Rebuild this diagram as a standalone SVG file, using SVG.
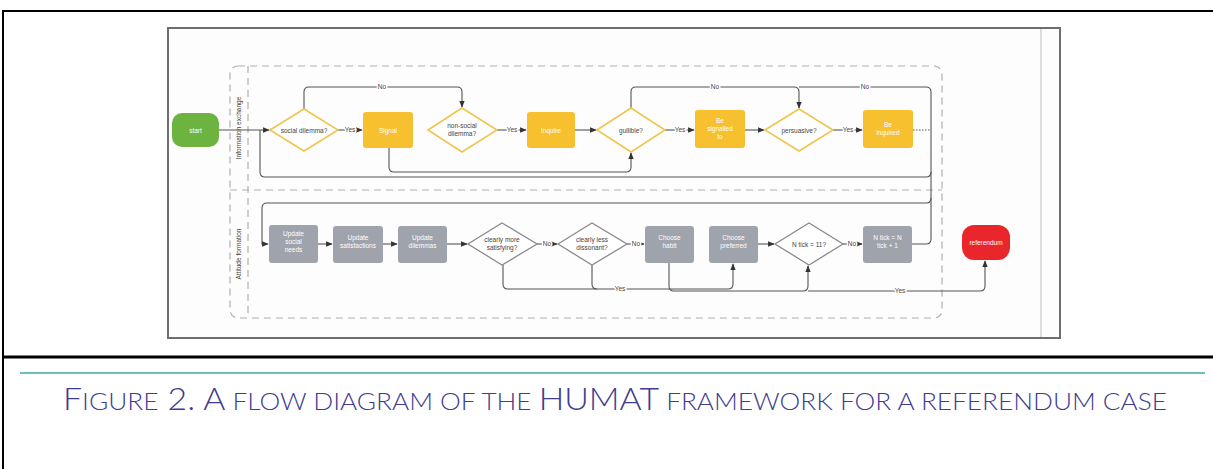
<svg xmlns="http://www.w3.org/2000/svg" width="1213" height="469" viewBox="0 0 1213 469">
<style>
.c{fill:none;stroke:#555;stroke-width:1.1}
.ym{fill:#f6c02f}
.yd{fill:#fff;stroke:#f0c44a;stroke-width:1.5}
.gd{fill:#fff;stroke:#8a8a8a;stroke-width:1.3}
.gb{fill:#9fa3ac}
.t{font-family:"Liberation Sans",Arial,sans-serif;font-size:6.5px;text-anchor:middle}
.w{fill:#fff}
.k{fill:#444}
.lbl{font-family:"Liberation Sans",Arial,sans-serif;font-size:6.5px;text-anchor:middle;fill:#444;stroke:#fff;stroke-width:3;paint-order:stroke}
.lane{fill:none;stroke:#b0b0b0;stroke-width:1.2;stroke-dasharray:7 5}
.cap{font-family:Lato,"Open Sans",sans-serif;font-weight:300;fill:#3f3c91}
</style>
<defs>
<marker id="ar" viewBox="0 0 10 10" refX="9" refY="5" markerWidth="6" markerHeight="6" orient="auto"><path d="M0,1 L10,5 L0,9 z" fill="#333"/></marker>
</defs>
<rect width="1213" height="469" fill="#fff"/>
<g id="page">
<line x1="3" y1="11" x2="1213" y2="11" stroke="#000" stroke-width="2"/>
<line x1="3" y1="10" x2="3" y2="469" stroke="#000" stroke-width="2"/>
<line x1="3" y1="357" x2="1213" y2="357" stroke="#000" stroke-width="3"/>
<line x1="20" y1="373" x2="1205" y2="373" stroke="#3aaea6" stroke-width="1.5"/>
<rect x="168" y="28" width="892" height="310" fill="#fdfdfd" stroke="#6e6e6e" stroke-width="2"/>
<line x1="1041" y1="29" x2="1041" y2="337" stroke="#ddd" stroke-width="2"/>
</g>
<g id="lanes">
<rect class="lane" x="230" y="66" width="712" height="252" rx="8"/>
<line class="lane" x1="248" y1="66" x2="248" y2="318"/>
<line class="lane" x1="230" y1="190" x2="942" y2="190"/>
<text class="t k" transform="translate(241,128) rotate(-90)">Information exchange</text>
<text class="t k" transform="translate(241,254) rotate(-90)">Attitude formation</text>
</g>
<g id="connectors">
<path class="c" d="M219,130 H269" marker-end="url(#ar)"/>
<path class="c" d="M338,130 H362" marker-end="url(#ar)"/>
<path class="c" d="M304,109 V92 Q304,87 309,87 H457 Q462,87 462,92 V107" marker-end="url(#ar)"/>
<path class="c" d="M497,130 H526" marker-end="url(#ar)"/>
<path class="c" d="M575,130 H596" marker-end="url(#ar)"/>
<path class="c" d="M665,130 H694" marker-end="url(#ar)"/>
<path class="c" d="M631,108 V92 Q631,87 636,87 H794 Q799,87 799,92 V108" marker-end="url(#ar)"/>
<path class="c" d="M745,130 H764" marker-end="url(#ar)"/>
<path class="c" d="M833,130 H862" marker-end="url(#ar)"/>
<path class="c" d="M799,87 H926 Q931,87 931,92 V239 Q931,244 926,244 H912"/>
<path class="c" d="M913,130 H931" stroke-dasharray="1.5 1.5"/>
<path class="c" d="M931,172 Q931,177 926,177 H265 Q260,177 260,172 V130"/>
<path class="c" d="M389,148 V167 Q389,172 394,172 H626 Q631,172 631,167 V153" marker-end="url(#ar)"/>
<path class="c" d="M931,198 Q931,203 926,203 H267 Q262,203 262,208 V244 H268" marker-end="url(#ar)"/>
<path class="c" d="M318,244 H332" marker-end="url(#ar)"/>
<path class="c" d="M383,244 H397" marker-end="url(#ar)"/>
<path class="c" d="M447,244 H467" marker-end="url(#ar)"/>
<path class="c" d="M537,244 H557" marker-end="url(#ar)"/>
<path class="c" d="M627,244 H644" marker-end="url(#ar)"/>
<path class="c" d="M758,244 H774" marker-end="url(#ar)"/>
<path class="c" d="M843,244 H862" marker-end="url(#ar)"/>
<path class="c" d="M503,265 V284 Q503,289 508,289 H728 Q733,289 733,284 V264" marker-end="url(#ar)"/>
<path class="c" d="M592,265 V284 Q592,289 597,289"/>
<path class="c" d="M669,263 V286 Q669,291 674,291 H803 Q808,291 808,286 V266" marker-end="url(#ar)"/>
<path class="c" d="M808,291 H980 Q985,291 985,286 V261" marker-end="url(#ar)"/>
<text class="lbl" x="350" y="132">Yes</text>
<text class="lbl" x="382" y="89">No</text>
<text class="lbl" x="512" y="132">Yes</text>
<text class="lbl" x="680" y="132">Yes</text>
<text class="lbl" x="715" y="89">No</text>
<text class="lbl" x="848" y="132">Yes</text>
<text class="lbl" x="865" y="89">No</text>
<text class="lbl" x="547" y="246">No</text>
<text class="lbl" x="636" y="246">No</text>
<text class="lbl" x="852" y="246">No</text>
<text class="lbl" x="620" y="291">Yes</text>
<text class="lbl" x="900" y="293">Yes</text>
</g>
<g id="start"><rect x="172" y="113" width="47" height="34" rx="10" fill="#6db33f"/><text class="t w" x="195.5" y="132.5">start</text></g>
<g id="social"><polygon class="yd" points="270,130 304,109 338,130 304,151"/><text class="t k" x="304" y="132.5">social dilemma?</text></g>
<g id="signal"><rect class="ym" x="363" y="112" width="50" height="36" rx="3"/><text class="t w" x="388" y="132.5">Signal</text></g>
<g id="nonsocial"><polygon class="yd" points="428,130 462,108 497,130 462,152"/><text class="t k" x="462" y="128">non-social</text><text class="t k" x="462" y="136">dilemma?</text></g>
<g id="inquire"><rect class="ym" x="527" y="112" width="48" height="36" rx="3"/><text class="t w" x="551" y="132.5">Inquire</text></g>
<g id="gullible"><polygon class="yd" points="597,130 631,108 665,130 631,152"/><text class="t k" x="631" y="132.5">gullible?</text></g>
<g id="signalled"><rect class="ym" x="695" y="110" width="50" height="38" rx="3"/><text class="t w" x="720" y="123">Be</text><text class="t w" x="720" y="131">signalled</text><text class="t w" x="720" y="139">to</text></g>
<g id="persuasive"><polygon class="yd" points="765,130 799,109 833,130 799,151"/><text class="t k" x="799" y="132.5">persuasive?</text></g>
<g id="inquired"><rect class="ym" x="863" y="110" width="50" height="38" rx="3"/><text class="t w" x="888" y="127">Be</text><text class="t w" x="888" y="135">inquired</text></g>
<g id="needs"><rect class="gb" x="269" y="225" width="49" height="38" rx="3"/><text class="t w" x="293.5" y="236">Update</text><text class="t w" x="293.5" y="244">social</text><text class="t w" x="293.5" y="252">needs</text></g>
<g id="satisf"><rect class="gb" x="333" y="226" width="50" height="37" rx="3"/><text class="t w" x="358" y="240">Update</text><text class="t w" x="358" y="248">satisfactions</text></g>
<g id="dilemmas"><rect class="gb" x="398" y="226" width="49" height="37" rx="3"/><text class="t w" x="422.5" y="240">Update</text><text class="t w" x="422.5" y="248">dilemmas</text></g>
<g id="satisfying"><polygon class="gd" points="468,244 502,223 537,244 502,265"/><text class="t k" x="502" y="242">clearly more</text><text class="t k" x="502" y="250">satisfying?</text></g>
<g id="dissonant"><polygon class="gd" points="558,244 592,223 627,244 592,265"/><text class="t k" x="592" y="242">clearly less</text><text class="t k" x="592" y="250">dissonant?</text></g>
<g id="habit"><rect class="gb" x="645" y="226" width="49" height="37" rx="3"/><text class="t w" x="669.5" y="240">Choose</text><text class="t w" x="669.5" y="248">habit</text></g>
<g id="preferred"><rect class="gb" x="709" y="226" width="49" height="37" rx="3"/><text class="t w" x="733.5" y="240">Choose</text><text class="t w" x="733.5" y="248">preferred</text></g>
<g id="ntick"><polygon class="gd" points="775,244 809,223 843,244 809,265"/><text class="t k" x="809" y="246.5">N tick = 11?</text></g>
<g id="increment"><rect class="gb" x="863" y="226" width="49" height="37" rx="3"/><text class="t w" x="887.5" y="240">N tick = N</text><text class="t w" x="887.5" y="248">tick + 1</text></g>
<g id="referendum"><rect x="962" y="225" width="48" height="35" rx="12" fill="#e8262b"/><text class="t w" x="986" y="244.5">referendum</text></g>
<g id="caption">
<text class="cap" x="63" y="410" textLength="1104" lengthAdjust="spacingAndGlyphs"><tspan font-size="31">F</tspan><tspan font-size="24">IGURE</tspan><tspan font-size="31"> 2. A</tspan><tspan font-size="24"> FLOW DIAGRAM OF THE </tspan><tspan font-size="31">HUMAT</tspan><tspan font-size="24"> FRAMEWORK FOR A REFERENDUM CASE</tspan></text>
</g>
</svg>
